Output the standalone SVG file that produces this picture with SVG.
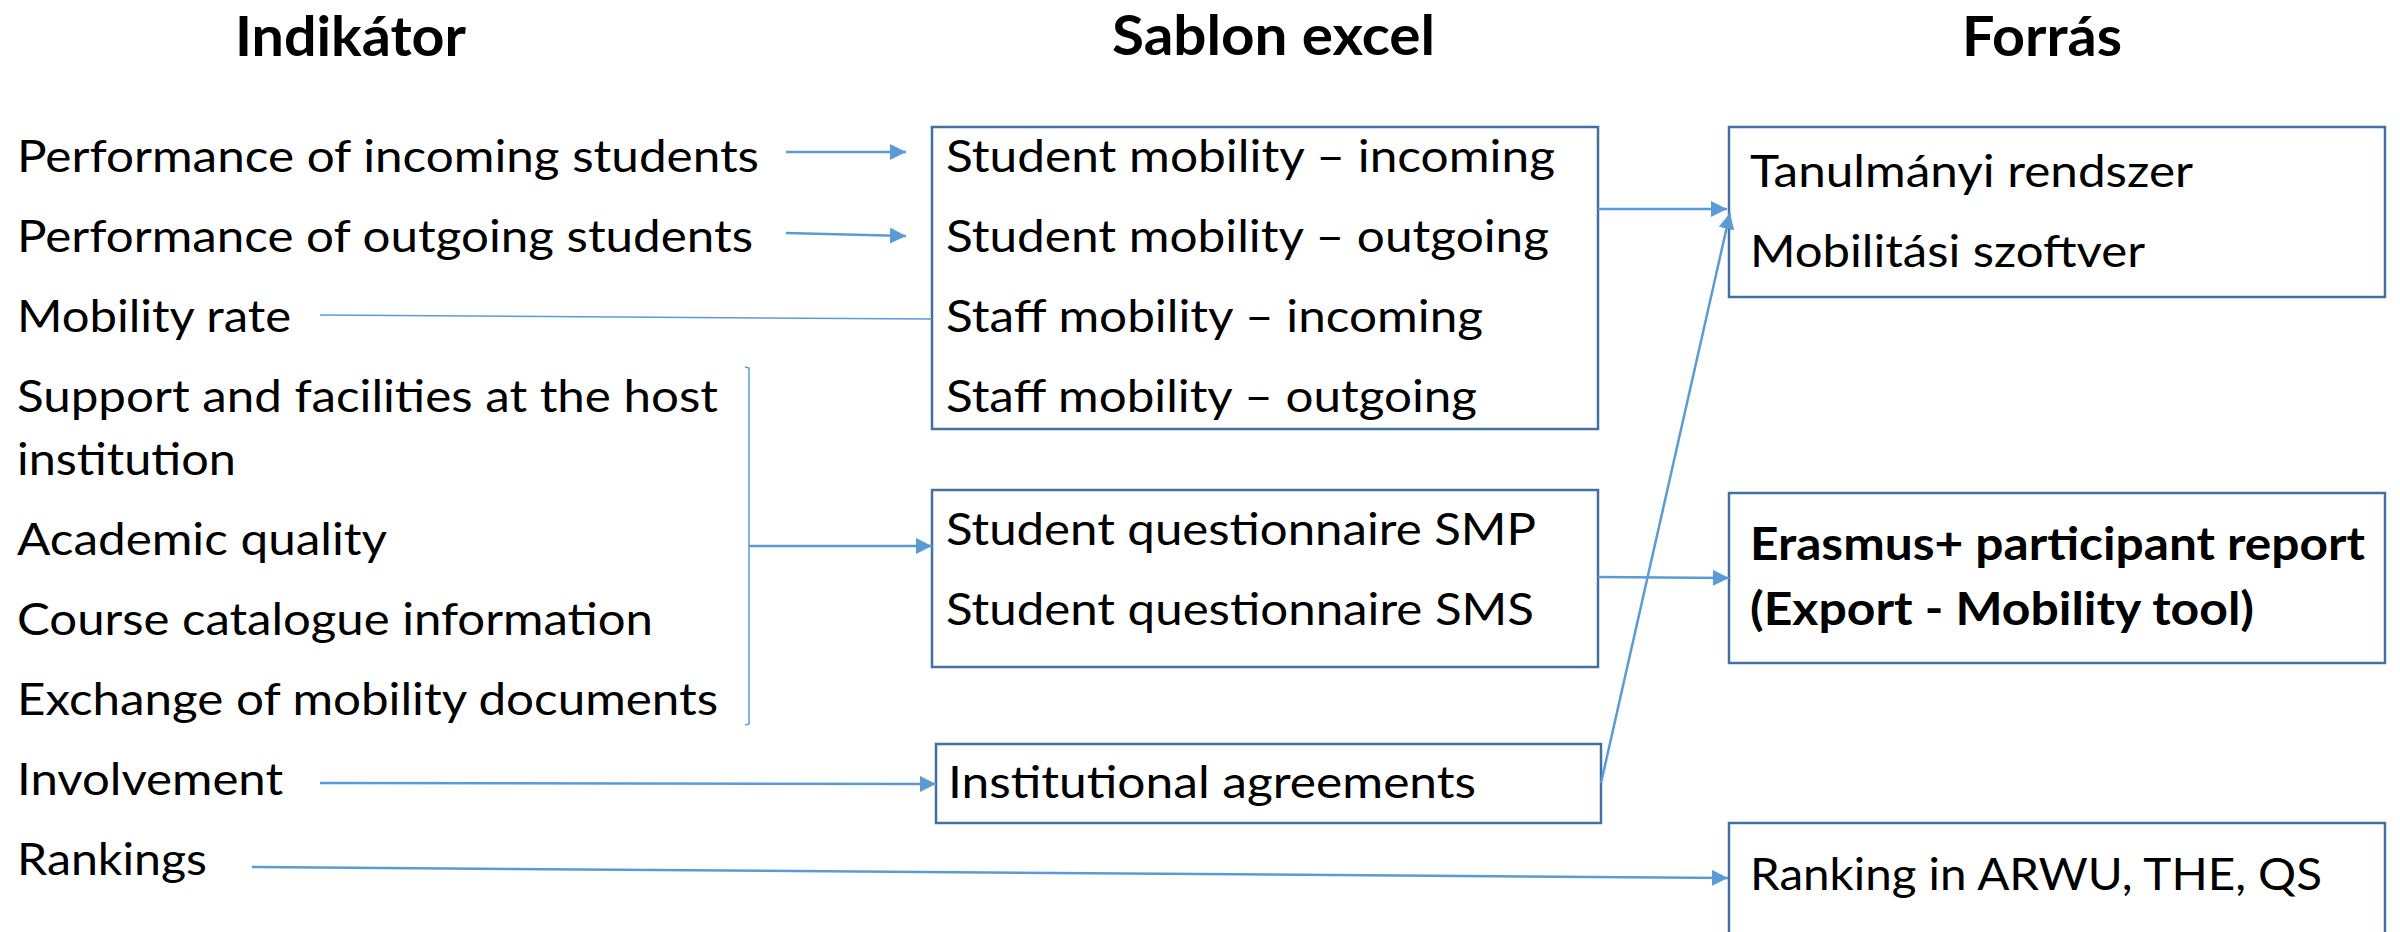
<svg xmlns="http://www.w3.org/2000/svg" width="2400" height="932" viewBox="0 0 2400 932">
<style>
text{font-family:Lato,"Liberation Sans",sans-serif;fill:#000}
.t{font-size:45px}
.h{font-size:55px;font-weight:bold}
.b{font-size:45px;font-weight:bold}
.box{fill:#fff;stroke:#41719C;stroke-width:2.5}
.ar{fill:none;stroke:#5B9BD5;stroke-width:2.5}
.th{fill:none;stroke:#5B9BD5;stroke-width:1.5}
</style>
<defs>
<marker id="ah" markerUnits="userSpaceOnUse" markerWidth="17" markerHeight="16" refX="16" refY="8" orient="auto">
<path d="M0,0 L16,8 L0,16 Z" fill="#5B9BD5"/>
</marker>
</defs>
<g id="headings">
<text class="h" x="235" y="56" textLength="231" lengthAdjust="spacingAndGlyphs">Indikátor</text>
<text class="h" x="1112" y="54.5" textLength="323" lengthAdjust="spacingAndGlyphs">Sablon excel</text>
<text class="h" x="1962" y="56" textLength="160" lengthAdjust="spacingAndGlyphs">Forrás</text>
</g>
<g id="indicators">
<text class="t" x="17" y="172" textLength="742" lengthAdjust="spacingAndGlyphs">Performance of incoming students</text>
<text class="t" x="17" y="252" textLength="736" lengthAdjust="spacingAndGlyphs">Performance of outgoing students</text>
<text class="t" x="17" y="332" textLength="274" lengthAdjust="spacingAndGlyphs">Mobility rate</text>
<text class="t" x="17" y="412" textLength="701" lengthAdjust="spacingAndGlyphs">Support and facilities at the host</text>
<text class="t" x="17" y="475" textLength="219" lengthAdjust="spacingAndGlyphs">institution</text>
<text class="t" x="17" y="555" textLength="370" lengthAdjust="spacingAndGlyphs">Academic quality</text>
<text class="t" x="17" y="635" textLength="636" lengthAdjust="spacingAndGlyphs">Course catalogue information</text>
<text class="t" x="17" y="715" textLength="701" lengthAdjust="spacingAndGlyphs">Exchange of mobility documents</text>
<text class="t" x="17" y="795" textLength="266" lengthAdjust="spacingAndGlyphs">Involvement</text>
<text class="t" x="17" y="875" textLength="190" lengthAdjust="spacingAndGlyphs">Rankings</text>
</g>
<g id="mobility-box">
<rect class="box" x="932" y="127" width="666" height="302"/>
<text class="t" x="946" y="172" textLength="609" lengthAdjust="spacingAndGlyphs">Student mobility – incoming</text>
<text class="t" x="946" y="252" textLength="603" lengthAdjust="spacingAndGlyphs">Student mobility – outgoing</text>
<text class="t" x="946" y="332" textLength="537" lengthAdjust="spacingAndGlyphs">Staff mobility – incoming</text>
<text class="t" x="946" y="412" textLength="531" lengthAdjust="spacingAndGlyphs">Staff mobility – outgoing</text>
</g>
<g id="questionnaire-box">
<rect class="box" x="932" y="490" width="666" height="177"/>
<text class="t" x="946" y="545" textLength="590" lengthAdjust="spacingAndGlyphs">Student questionnaire SMP</text>
<text class="t" x="946" y="625" textLength="588" lengthAdjust="spacingAndGlyphs">Student questionnaire SMS</text>
</g>
<g id="agreements-box">
<rect class="box" x="936" y="744" width="665" height="79"/>
<text class="t" x="948" y="798" textLength="528" lengthAdjust="spacingAndGlyphs">Institutional agreements</text>
</g>
<g id="source-systems">
<rect class="box" x="1729" y="127" width="656" height="170"/>
<text class="t" x="1750" y="187" textLength="443" lengthAdjust="spacingAndGlyphs">Tanulmányi rendszer</text>
<text class="t" x="1750" y="267" textLength="395" lengthAdjust="spacingAndGlyphs">Mobilitási szoftver</text>
</g>
<g id="erasmus-report">
<rect class="box" x="1729" y="493" width="656" height="170"/>
<text class="b" x="1750" y="560" textLength="615" lengthAdjust="spacingAndGlyphs">Erasmus+ participant report</text>
<text class="b" x="1750" y="625" textLength="504" lengthAdjust="spacingAndGlyphs">(Export - Mobility tool)</text>
</g>
<g id="ranking-source">
<rect class="box" x="1729" y="823" width="656" height="140"/>
<text class="t" x="1750" y="890" textLength="572" lengthAdjust="spacingAndGlyphs">Ranking in ARWU, THE, QS</text>
</g>
<g id="connectors">
<line class="ar" x1="786" y1="152" x2="906" y2="152" marker-end="url(#ah)"/>
<line class="ar" x1="786" y1="233" x2="906" y2="236" marker-end="url(#ah)"/>
<line class="th" x1="320" y1="315" x2="932" y2="319"/>
<path class="th" d="M745,367 L749,368 L749,724 L745,725"/>
<line class="ar" x1="749" y1="546" x2="932" y2="546" marker-end="url(#ah)"/>
<line class="ar" x1="320" y1="783" x2="936" y2="784" marker-end="url(#ah)"/>
<line class="ar" x1="252" y1="867" x2="1728" y2="878" marker-end="url(#ah)"/>
<line class="ar" x1="1598" y1="209" x2="1727" y2="209" marker-end="url(#ah)"/>
<line class="ar" x1="1598" y1="577" x2="1729" y2="578" marker-end="url(#ah)"/>
<line class="ar" x1="1601" y1="783" x2="1730" y2="213" marker-end="url(#ah)"/>
</g>
</svg>
